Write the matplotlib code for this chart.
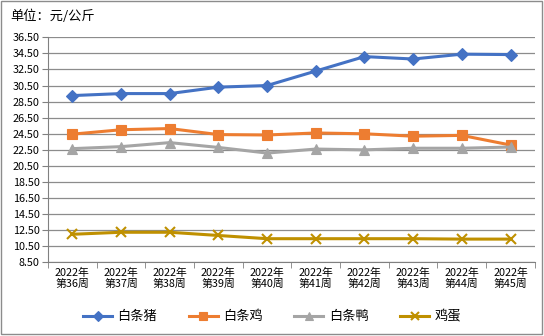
import matplotlib
matplotlib.use("Agg")
import matplotlib.pyplot as plt
import numpy as np
from matplotlib.patches import Rectangle

plt.rcParams["font.family"] = ["Noto Sans CJK SC", "DejaVu Sans"]

weeks = ["2022年\n第36周", "2022年\n第37周", "2022年\n第38周", "2022年\n第39周",
         "2022年\n第40周", "2022年\n第41周", "2022年\n第42周", "2022年\n第43周",
         "2022年\n第44周", "2022年\n第45周"]
pork = [29.25, 29.5, 29.5, 30.3, 30.5, 32.3, 34.1, 33.8, 34.4, 34.35]
chicken = [24.45, 25.0, 25.15, 24.4, 24.35, 24.6, 24.5, 24.2, 24.3, 23.1]
duck = [22.65, 22.9, 23.4, 22.8, 22.1, 22.6, 22.5, 22.7, 22.7, 22.85]
egg = [12.0, 12.25, 12.25, 11.85, 11.45, 11.45, 11.45, 11.45, 11.4, 11.4]

series = [
    ("白条猪", pork, "#4472C4", "D", 6.5),
    ("白条鸡", chicken, "#ED7D31", "s", 6.5),
    ("白条鸭", duck, "#A5A5A5", "^", 7.5),
    ("鸡蛋", egg, "#BF9000", "x", 7.5),
]

fig = plt.figure(figsize=(5.44, 3.36), dpi=100, facecolor="white")
ax = fig.add_axes([0.0882, 0.219, 0.895, 0.670])

x = np.arange(len(weeks))
handles = []
for name, vals, color, marker, ms in series:
    (h,) = ax.plot(x, vals, color=color, linewidth=2.2, marker=marker,
                   markersize=ms, markeredgewidth=1.5 if marker == "x" else 0.8,
                   markeredgecolor=color, label=name, zorder=3)
    handles.append(h)

ax.set_xlim(-0.5, len(weeks) - 0.5)
ax.set_ylim(8.5, 36.5)
yt = np.arange(8.5, 36.6, 2)
ax.set_yticks(yt)
ax.set_yticklabels([f"{v:.2f}" for v in yt], fontsize=7.8)
ax.set_xticks(x)
ax.set_xticklabels(weeks, fontsize=7.8, linespacing=1.1)
ax.set_xticks(np.arange(-0.5, len(weeks)), minor=True)
ax.tick_params(axis="x", which="major", length=0, pad=4)
ax.tick_params(axis="x", which="minor", length=4, color="#808080")
ax.tick_params(axis="y", length=4, color="#808080", pad=2)
ax.grid(axis="y", color="#8c8c8c", linewidth=0.9)
ax.set_axisbelow(True)
for side in ("top", "right"):
    ax.spines[side].set_visible(False)
for side in ("left", "bottom"):
    ax.spines[side].set_color("#808080")

fig.text(0.018, 0.952, "单位：元/公斤", fontsize=9.5, va="center", ha="left")

fig.legend(handles=handles, loc="center", bbox_to_anchor=(0.5, 0.057), ncol=4,
           frameon=False, fontsize=9.5, handlelength=2.2, columnspacing=2.4,
           handletextpad=0.4, markerscale=0.8)

fig.patches.append(Rectangle((0.002, 0.006), 0.995, 0.99, transform=fig.transFigure,
                             fill=False, edgecolor="#8c8c8c", linewidth=1))

fig.savefig("out.png", dpi=100, facecolor="white")
